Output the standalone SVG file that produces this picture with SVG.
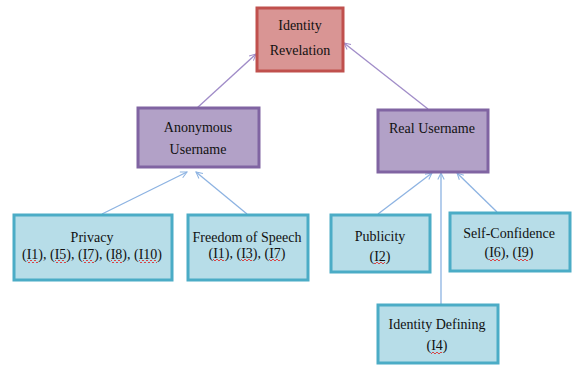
<svg xmlns="http://www.w3.org/2000/svg" width="572" height="365" viewBox="0 0 572 365">
<style>
.red{fill:#D99594;stroke:#C0504D;stroke-width:3}
.pur{fill:#B2A1C7;stroke:#8064A2;stroke-width:3}
.blu{fill:#B7DDE8;stroke:#4BACC6;stroke-width:3}
.cp{stroke:#A08CC8;stroke-width:1.3;fill:none;marker-end:url(#ap)}
.cb{stroke:#8DB3E2;stroke-width:1.3;fill:none;marker-end:url(#ab)}
.sq{fill:url(#wave)}
.t{font-family:"Liberation Serif",serif;font-size:14px;fill:#111;text-anchor:middle}
</style>
<defs>
<marker id="ap" viewBox="0 0 10 10" refX="9" refY="5" markerWidth="8" markerHeight="8" orient="auto" markerUnits="userSpaceOnUse"><path d="M1,1 L9,5 L1,9" fill="none" stroke="#A08CC8" stroke-width="1.3"/></marker>
<marker id="ab" viewBox="0 0 10 10" refX="9" refY="5" markerWidth="8" markerHeight="8" orient="auto" markerUnits="userSpaceOnUse"><path d="M1,1 L9,5 L1,9" fill="none" stroke="#8DB3E2" stroke-width="1.3"/></marker>
<pattern id="wave" patternUnits="userSpaceOnUse" width="4" height="3"><path d="M0,2 Q1,0 2,2 T4,2" fill="none" stroke="#E02020" stroke-width="0.8"/></pattern>
</defs>
<rect width="572" height="365" fill="#ffffff"/>
<g id="connectors">
<line class="cp" x1="197" y1="108" x2="256" y2="54"/>
<line class="cp" x1="428" y1="109" x2="344" y2="43"/>
<line class="cb" x1="102" y1="214" x2="187" y2="172"/>
<line class="cb" x1="247" y1="214" x2="196" y2="172"/>
<line class="cb" x1="378" y1="214" x2="432" y2="173"/>
<line class="cb" x1="441" y1="304" x2="441" y2="173"/>
<line class="cb" x1="497" y1="212" x2="457" y2="173"/>
</g>
<g id="identity-revelation">
<rect class="red" x="257" y="8" width="86" height="63"/>
<text class="t" x="300" y="30">Identity</text>
<text class="t" x="300" y="55">Revelation</text>
</g>
<g id="anonymous-username">
<rect class="pur" x="138" y="108" width="121" height="59"/>
<text class="t" x="198" y="132">Anonymous</text>
<text class="t" x="198" y="154">Username</text>
</g>
<g id="real-username">
<rect class="pur" x="378" y="110" width="110" height="62"/>
<text class="t" x="432" y="133">Real Username</text>
</g>
<g id="privacy">
<rect class="blu" x="14" y="215" width="158" height="65"/>
<text class="t" x="92" y="242">Privacy</text>
<text class="t" x="92" y="259">(I1), (I5), (I7), (I8), (I10)</text>
<rect class="sq" x="27" y="260" width="11" height="3"/>
<rect class="sq" x="55" y="260" width="11" height="3"/>
<rect class="sq" x="83" y="260" width="11" height="3"/>
<rect class="sq" x="111" y="260" width="11" height="3"/>
<rect class="sq" x="139" y="260" width="18" height="3"/>
</g>
<g id="freedom-of-speech">
<rect class="blu" x="188" y="215" width="120" height="65"/>
<text class="t" x="247" y="242">Freedom of Speech</text>
<text class="t" x="247" y="258">(I1), (I3), (I7)</text>
<rect class="sq" x="213" y="259" width="11" height="3"/>
<rect class="sq" x="241" y="259" width="11" height="3"/>
<rect class="sq" x="269" y="259" width="11" height="3"/>
</g>
<g id="publicity">
<rect class="blu" x="331" y="215" width="99" height="57"/>
<text class="t" x="380" y="241">Publicity</text>
<text class="t" x="380" y="261">(I2)</text>
<rect class="sq" x="374" y="262" width="11" height="3"/>
</g>
<g id="self-confidence">
<rect class="blu" x="450" y="213" width="120" height="58"/>
<text class="t" x="509" y="238">Self-Confidence</text>
<text class="t" x="509" y="257">(I6), (I9)</text>
<rect class="sq" x="489" y="258" width="11" height="3"/>
<rect class="sq" x="517" y="258" width="11" height="3"/>
</g>
<g id="identity-defining">
<rect class="blu" x="378" y="305" width="120" height="58"/>
<text class="t" x="437" y="329">Identity Defining</text>
<text class="t" x="437" y="350">(I4)</text>
<rect class="sq" x="431" y="351" width="11" height="3"/>
</g>
</svg>
